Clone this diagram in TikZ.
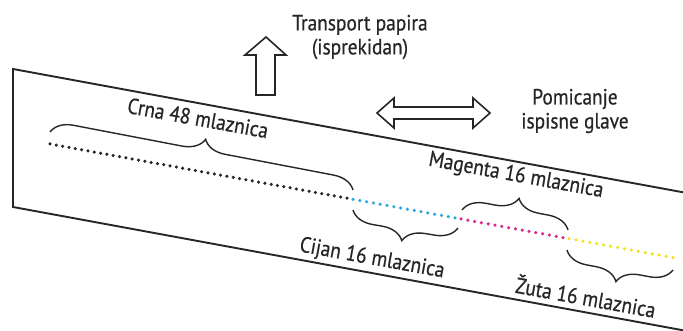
\documentclass[tikz,border=0pt]{standalone}
\usepackage{fontspec}
\setmainfont[FakeStretch=0.88,FakeBold=0.6]{PT Sans}
\usetikzlibrary{decorations.pathreplacing}
\definecolor{inkc}{HTML}{262626}
\definecolor{cyanc}{HTML}{2AA6DF}
\definecolor{magc}{HTML}{D9268A}
\definecolor{yelc}{HTML}{F2E21C}
\tikzset{
  edge/.style={draw=inkc,line width=1.9pt},
  brc/.style={draw=inkc,line width=1.4pt,decorate,decoration={brace,amplitude=22pt}},
  brcm/.style={draw=inkc,line width=1.4pt,decorate,decoration={brace,amplitude=22pt,mirror}},
  lab/.style={text=inkc,font=\fontsize{22}{24}\selectfont,rotate=-10.3,inner sep=0pt},
  hlab/.style={text=inkc,font=\fontsize{22}{24}\selectfont,align=center,inner sep=0pt},
  blk/.style={draw=inkc,line width=1.6pt,fill=white,line join=miter},
}
\newcommand{\yy}[1]{144+0.1824*(#1-50)}
\begin{document}
\begin{tikzpicture}[x=1pt,y=-1pt]
\useasboundingbox (0,0) rectangle (683,331);
\begin{scope}
\clip (0,0) rectangle (683,331);
% paper strip
\draw[edge] (700,{69+0.184*687}) -- (13,69) -- (13,207) -- (700,{207+0.184*687});
\end{scope}
% dots
\foreach \i in {0,...,47}{
  \pgfmathsetmacro{\xx}{50+\i*297/47}
  \fill[inkc] (\xx,{\yy{\xx}}) circle (1.75);
}
\foreach \i in {0,...,15}{
  \pgfmathsetmacro{\xa}{353+\i*102/15}
  \fill[cyanc] (\xa,{\yy{\xa}}) circle (1.75);
  \pgfmathsetmacro{\xb}{461+\i*102/15}
  \fill[magc] (\xb,{\yy{\xb}}) circle (1.75);
  \pgfmathsetmacro{\xc}{569+\i*104/15}
  \fill[yelc] (\xc,{\yy{\xc}}) circle (1.75);
}
% brace endpoints
\coordinate (k1) at (50,132);
\coordinate (k2) at (353,190);
\coordinate (c1) at (353,210);
\coordinate (c2) at (458,228);
\coordinate (m1) at (462,210);
\coordinate (m2) at (568,230);
\coordinate (y1) at (567,250);
\coordinate (y2) at (673,270);
\draw[brc] (k1) -- (k2);
\draw[brcm] (c1) -- (c2);
\draw[brc] (m1) -- (m2);
\draw[brcm] (y1) -- (y2);
% labels
\node[lab] (crna) at (198,118) {Crna 48 mlaznica};
\node[lab] (cijan) at (372,259) {Cijan 16 mlaznica};
\node[lab] (magenta) at (516,176) {Magenta 16 mlaznica};
\node[lab] (zuta) at (586,296) {Žuta 16 mlaznica};
\node[hlab] (transport) at (360,37) {Transport papira\\(isprekidan)};
\node[hlab] (pomicanje) at (575,111) {Pomicanje\\ispisne glave};
% up block arrow
\draw[blk] (256,95) -- (256,55) -- (245,55) -- (266,37) -- (286,55) -- (275,55) -- (275,95) -- cycle;
% double block arrow
\draw[blk] (377,113) -- (394,98) -- (394,107) -- (473,107) -- (473,98) -- (490,113)
  -- (473,128) -- (473,119) -- (394,119) -- (394,128) -- cycle;
\end{tikzpicture}
\end{document}
